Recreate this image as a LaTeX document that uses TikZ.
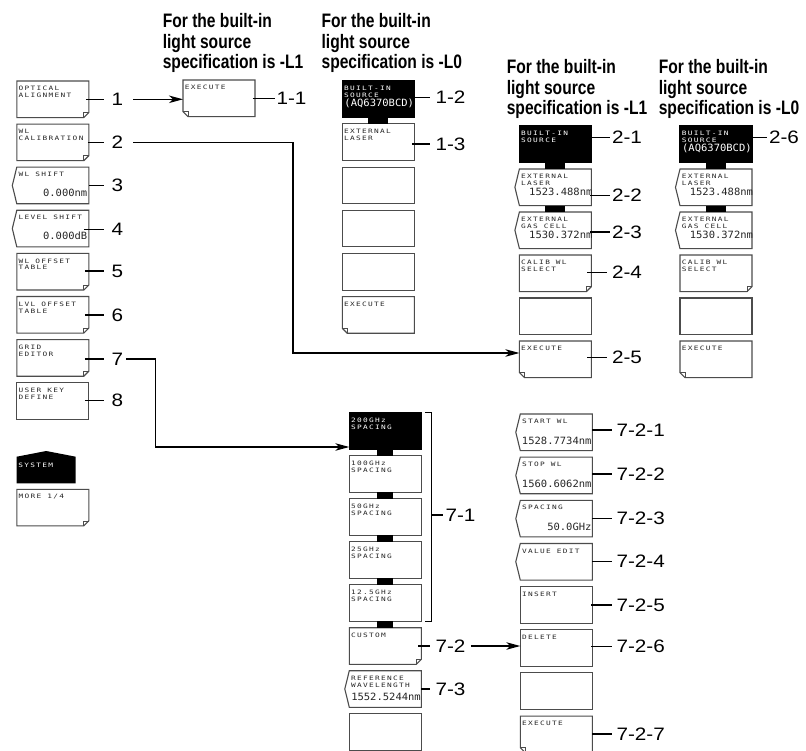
\documentclass[tikz,border=0pt]{standalone}
\usepackage{fontspec}
\setmainfont{Liberation Sans}
\newfontfamily\hdfont[FakeStretch=0.8]{Liberation Sans}
\newfontfamily\lbfont[FakeStretch=1.15]{Liberation Sans}
\newfontfamily\smfont[FakeStretch=1.3,LetterSpace=22]{DejaVu Sans Mono}
\newfontfamily\vlfont[FakeStretch=1.05]{DejaVu Sans Mono}
\usetikzlibrary{arrows.meta}
\tikzset{
  bxn/.style={rectangle,anchor=north west,minimum width=72pt,minimum height=36.6pt,inner sep=0pt,outer sep=0pt},
  bx/.style={draw=black!70,line width=1.1pt,line join=miter},
  fold/.style={draw=black!70,line width=0.8pt},
  stxt/.style={anchor=north west,inner sep=0pt,outer sep=0pt,align=left,text=black!85,font=\smfont\fontsize{6}{6.9}\selectfont},
  wtxt/.style={stxt,text=white},
  vtxt/.style={anchor=base east,inner sep=0pt,outer sep=0pt,text=black!85,font=\vlfont\fontsize{10}{10}\selectfont},
  wvtxt/.style={vtxt,text=white},
  lbl/.style={anchor=west,inner sep=0pt,outer sep=0pt,font=\lbfont\fontsize{18}{20}\selectfont},
  ld/.style={draw=black,line width=1.3pt},
  arr/.style={draw=black,line width=1.3pt,-{Stealth[length=14pt,width=7.5pt,inset=4pt]}},
  hd/.style={anchor=north west,inner sep=0pt,outer sep=0pt,align=left,font=\hdfont\bfseries\fontsize{19.5}{20.5}\selectfont},
  barf/.style={fill=black},
}
\newcommand\shpplain[1]{\draw[bx] (#1.north west) rectangle (#1.south east);}
\newcommand\shpbr[1]{%
  \draw[bx] (#1.south west) -- (#1.north west) -- (#1.north east) -- ([yshift=5pt]#1.south east) -- ([xshift=-5pt]#1.south east) -- cycle;
  \draw[fold] ([xshift=-5pt]#1.south east) -- ([xshift=-5pt,yshift=5pt]#1.south east) -- ([yshift=5pt]#1.south east);}
\newcommand\shpbl[1]{%
  \draw[bx] ([yshift=5pt]#1.south west) -- (#1.north west) -- (#1.north east) -- (#1.south east) -- ([xshift=5pt]#1.south west) -- cycle;
  \draw[fold] ([yshift=5pt]#1.south west) -- ([xshift=5pt,yshift=5pt]#1.south west) -- ([xshift=5pt]#1.south west);}
\newcommand\shpchev[1]{\draw[bx] (#1.north west) -- (#1.north east) -- (#1.south east) -- (#1.south west) -- ([xshift=-4.5pt]#1.west) -- cycle;}
\newcommand\shpblk[1]{\filldraw[fill=black,draw=black,line width=1.1pt] (#1.north west) rectangle (#1.south east);}
\newcommand\bartie[3]{\fill[barf] ([xshift=-#3]#1.south) rectangle ([xshift=#3]#2.north);}
\newcommand\btxt[2]{\node[stxt] (#1t) at ([xshift=1.8pt,yshift=-5.2pt]#1.north west) {#2};}
\newcommand\wbtxt[2]{\node[wtxt] (#1t) at ([xshift=1.8pt,yshift=-5.2pt]#1.north west) {#2};}
\newcommand\bval[4]{\node[vtxt] (#1v) at ([xshift=#3,yshift=#4]#1.south east) {#2};}
\newcommand\wbval[4]{\node[wvtxt] (#1v) at ([xshift=#3,yshift=#4]#1.south east) {#2};}
\newcommand\lab[7]{\node[lbl] (#1) at (#3,#4) {#2}; \draw[ld] ([xshift=#6]#5.east |- #1.west) -- ([xshift=-#7]#1.west);}
\begin{document}
\begin{tikzpicture}[x=1pt,y=-1pt]
\useasboundingbox (0,0) rectangle (806,751);
\fill[white] (0,0) rectangle (806,751);
\begin{scope}
\clip (0,0) rectangle (806,751);
% headings
\node[hd] (h1) at (162.8,13.5) {For the built-in\\light source\\specification is -L1};
\node[hd] (h2) at (321.6,13.5) {For the built-in\\light source\\specification is -L0};
\node[hd] (h3) at (506.8,59.5) {For the built-in\\light source\\specification is -L1};
\node[hd] (h4) at (658.8,59.5) {For the built-in\\light source\\specification is -L0};
% column A
\node[bxn] (a1) at (16.8,81) {};
\node[bxn] (a2) at (16.8,124.1) {};
\node[bxn] (a3) at (16.8,167.2) {};
\node[bxn] (a4) at (16.8,210.3) {};
\node[bxn] (a5) at (16.8,253.4) {};
\node[bxn] (a6) at (16.8,296.5) {};
\node[bxn] (a7) at (16.8,339.6) {};
\node[bxn] (a8) at (16.8,382.7) {};
\node[bxn,minimum width=59pt,minimum height=32.3pt] (sys) at (16.7,451) {};
\node[bxn] (a9) at (16.8,489.3) {};
% 1-1
\node[bxn] (p1) at (183,80) {};
% column B
\node[bxn] (b1) at (342.3,80.7) {};
\node[bxn] (b2) at (342.3,123.9) {};
\node[bxn] (b3) at (342.3,167.1) {};
\node[bxn] (b4) at (342.3,210.3) {};
\node[bxn] (b5) at (342.3,253.5) {};
\node[bxn] (b6) at (342.3,296.7) {};
% column C
\node[bxn] (c1) at (519.4,126) {};
\node[bxn] (c2) at (519.4,169) {};
\node[bxn] (c3) at (519.4,212) {};
\node[bxn] (c4) at (519.4,255) {};
\node[bxn] (c5) at (519.4,298) {};
\node[bxn] (c6) at (519.4,341) {};
% column D
\node[bxn] (d1) at (680,126) {};
\node[bxn] (d2) at (680,169) {};
\node[bxn] (d3) at (680,212) {};
\node[bxn] (d4) at (680,255) {};
\node[bxn] (d5) at (680,298) {};
\node[bxn] (d6) at (680,341) {};
% column E
\node[bxn] (e1) at (349.3,412.7) {};
\node[bxn] (e2) at (349.3,455.7) {};
\node[bxn] (e3) at (349.3,498.7) {};
\node[bxn] (e4) at (349.3,541.7) {};
\node[bxn] (e5) at (349.3,584.7) {};
\node[bxn] (e6) at (349.3,627.7) {};
\node[bxn] (e7) at (349.3,670.7) {};
\node[bxn] (e8) at (349.3,713.7) {};
% column F
\node[bxn] (f1) at (520.3,414) {};
\node[bxn] (f2) at (520.3,457.15) {};
\node[bxn] (f3) at (520.3,500.3) {};
\node[bxn] (f4) at (520.3,543.45) {};
\node[bxn] (f5) at (520.3,586.6) {};
\node[bxn] (f6) at (520.3,629.75) {};
\node[bxn] (f7) at (520.3,672.9) {};
\node[bxn] (f8) at (520.3,716.05) {};
% shapes
\shpbr{a1}\shpbr{a2}\shpchev{a3}\shpchev{a4}\shpbr{a5}\shpbr{a6}\shpbr{a7}\shpplain{a8}\shpbr{a9}
\fill[black] (sys.south west) -- ([yshift=-5.7pt]sys.north west) -- (sys.north) -- ([yshift=-5.7pt]sys.north east) -- (sys.south east) -- cycle;
\shpbl{p1}
\shpblk{b1}\shpplain{b2}\shpplain{b3}\shpplain{b4}\shpplain{b5}\shpbl{b6}
\shpblk{c1}\shpchev{c2}\shpchev{c3}\shpbr{c4}\shpplain{c5}\shpbl{c6}
\shpblk{d1}\shpchev{d2}\shpchev{d3}\shpbr{d4}\shpplain{d5}\shpbl{d6}
\shpblk{e1}\shpplain{e2}\shpplain{e3}\shpplain{e4}\shpplain{e5}\shpbr{e6}\shpchev{e7}\shpplain{e8}
\shpchev{f1}\shpchev{f2}\shpchev{f3}\shpchev{f4}\shpplain{f5}\shpplain{f6}\shpplain{f7}\shpbl{f8}
% bars
\bartie{b1}{b2}{10pt}
\bartie{c1}{c2}{10pt}\bartie{c2}{c3}{10pt}
\bartie{d1}{d2}{10pt}\bartie{d2}{d3}{10pt}
\bartie{e1}{e2}{8pt}\bartie{e2}{e3}{8pt}\bartie{e3}{e4}{8pt}\bartie{e4}{e5}{8pt}\bartie{e5}{e6}{8pt}
% texts
\btxt{a1}{OPTICAL\\ALIGNMENT}
\btxt{a2}{WL\\CALIBRATION}
\btxt{a3}{WL SHIFT}\bval{a3}{0.000nm}{-1.5pt}{7.3pt}
\btxt{a4}{LEVEL SHIFT}\bval{a4}{0.000dB}{-1.5pt}{7.3pt}
\btxt{a5}{WL OFFSET\\TABLE}
\btxt{a6}{LVL OFFSET\\TABLE}
\btxt{a7}{GRID\\EDITOR}
\btxt{a8}{USER KEY\\DEFINE}
\node[wtxt] (syst) at ([xshift=1.6pt,yshift=-11.7pt]sys.north west) {SYSTEM};
\btxt{a9}{MORE 1/4}
\btxt{p1}{EXECUTE}
\wbtxt{b1}{BUILT-IN\\SOURCE}\wbval{b1}{(AQ6370BCD)}{-0.3pt}{11.2pt}
\btxt{b2}{EXTERNAL\\LASER}
\btxt{b6}{EXECUTE}
\wbtxt{c1}{BUILT-IN\\SOURCE}
\btxt{c2}{EXTERNAL\\LASER}\bval{c2}{1523.488nm}{1pt}{10.4pt}
\btxt{c3}{EXTERNAL\\GAS CELL}\bval{c3}{1530.372nm}{1pt}{10.4pt}
\btxt{c4}{CALIB WL\\SELECT}
\btxt{c6}{EXECUTE}
\wbtxt{d1}{BUILT-IN\\SOURCE}\wbval{d1}{(AQ6370BCD)}{-0.3pt}{11.2pt}
\btxt{d2}{EXTERNAL\\LASER}\bval{d2}{1523.488nm}{1pt}{10.4pt}
\btxt{d3}{EXTERNAL\\GAS CELL}\bval{d3}{1530.372nm}{1pt}{10.4pt}
\btxt{d4}{CALIB WL\\SELECT}
\btxt{d6}{EXECUTE}
\wbtxt{e1}{200GHz\\SPACING}
\btxt{e2}{100GHz\\SPACING}
\btxt{e3}{50GHz\\SPACING}
\btxt{e4}{25GHz\\SPACING}
\btxt{e5}{12.5GHz\\SPACING}
\btxt{e6}{CUSTOM}
\btxt{e7}{REFERENCE\\WAVELENGTH}\bval{e7}{1552.5244nm}{-0.5pt}{7pt}
\btxt{f1}{START WL}\bval{f1}{1528.7734nm}{-0.8pt}{6pt}
\btxt{f2}{STOP WL}\bval{f2}{1560.6062nm}{-0.8pt}{6pt}
\btxt{f3}{SPACING}\bval{f3}{50.0GHz}{-0.8pt}{6pt}
\btxt{f4}{VALUE EDIT}
\btxt{f5}{INSERT}
\btxt{f6}{DELETE}
\btxt{f8}{EXECUTE}
% labels and leaders
\lab{l1}{1}{111.5}{99.3}{a1}{-3pt}{7.5pt}
\lab{l2}{2}{111.5}{142.3}{a2}{-1pt}{7.5pt}
\lab{l3}{3}{111.5}{185.5}{a3}{0pt}{7.5pt}
\lab{l4}{4}{111.5}{229.5}{a4}{-5pt}{7.5pt}
\lab{l5}{5}{111.5}{271}{a5}{-4pt}{7.5pt}
\lab{l6}{6}{111.5}{315}{a6}{-4pt}{7.5pt}
\lab{l7}{7}{111.5}{359}{a7}{-4pt}{7.5pt}
\lab{l8}{8}{111.5}{400.5}{a8}{-4pt}{7.5pt}
\lab{l11}{1-1}{276.5}{98.5}{p1}{-2.5pt}{1.5pt}
\lab{l12}{1-2}{435.5}{97.7}{b1}{-1pt}{5.5pt}
\lab{l13}{1-3}{435.5}{144}{b2}{-2.5pt}{5.5pt}
\lab{l21}{2-1}{612}{137.5}{c1}{0pt}{2pt}
\lab{l22}{2-2}{612}{195.5}{c2}{-1pt}{2pt}
\lab{l23}{2-3}{612}{232}{c3}{-1pt}{2pt}
\lab{l24}{2-4}{612}{272.5}{c4}{-4pt}{5pt}
\lab{l25}{2-5}{612}{357.5}{c6}{-4pt}{5pt}
\lab{l26}{2-6}{769}{137.5}{d1}{0pt}{2pt}
\lab{l72}{7-2}{435.5}{646}{e6}{-3pt}{5.5pt}
\lab{l73}{7-3}{435.5}{689}{e7}{0pt}{5.5pt}
\lab{l721}{7-2-1}{616.5}{430}{f1}{0pt}{4.5pt}
\lab{l722}{7-2-2}{616.5}{474}{f2}{0pt}{4.5pt}
\lab{l723}{7-2-3}{616.5}{518.5}{f3}{0pt}{4.5pt}
\lab{l724}{7-2-4}{616.5}{561.5}{f4}{0pt}{4.5pt}
\lab{l725}{7-2-5}{616.5}{605}{f5}{-1pt}{4.5pt}
\lab{l726}{7-2-6}{616.5}{646.5}{f6}{-1pt}{4.5pt}
\lab{l727}{7-2-7}{616.5}{734}{f8}{0pt}{4.5pt}
% bracket 7-1
\node[lbl] (l71) at (445.5,515) {7-1};
\draw[ld] ([xshift=3.5pt]e1.north east) -- ([xshift=10.5pt]e1.north east) -- ([xshift=10.5pt]e5.south east) -- ([xshift=3.5pt]e5.south east);
\draw[ld] ([xshift=10.5pt]e1.east |- l71.west) -- ([xshift=-2.5pt]l71.west);
% connectors
\draw[arr] ([xshift=10pt]l1.east) -- (p1.west |- l1.east);
\coordinate (k2) at (293,353);
\draw[arr] ([xshift=10pt]l2.east) -| (k2) -- (c6.west |- k2);
\coordinate (k7) at (155.7,447);
\draw[arr] ([xshift=3pt]l7.east) -| (k7) -- (e1.west |- k7);
\draw[arr] ([xshift=5.5pt]l72.east) -- (f6.west |- l72.east);
\end{scope}
\end{tikzpicture}
\end{document}
